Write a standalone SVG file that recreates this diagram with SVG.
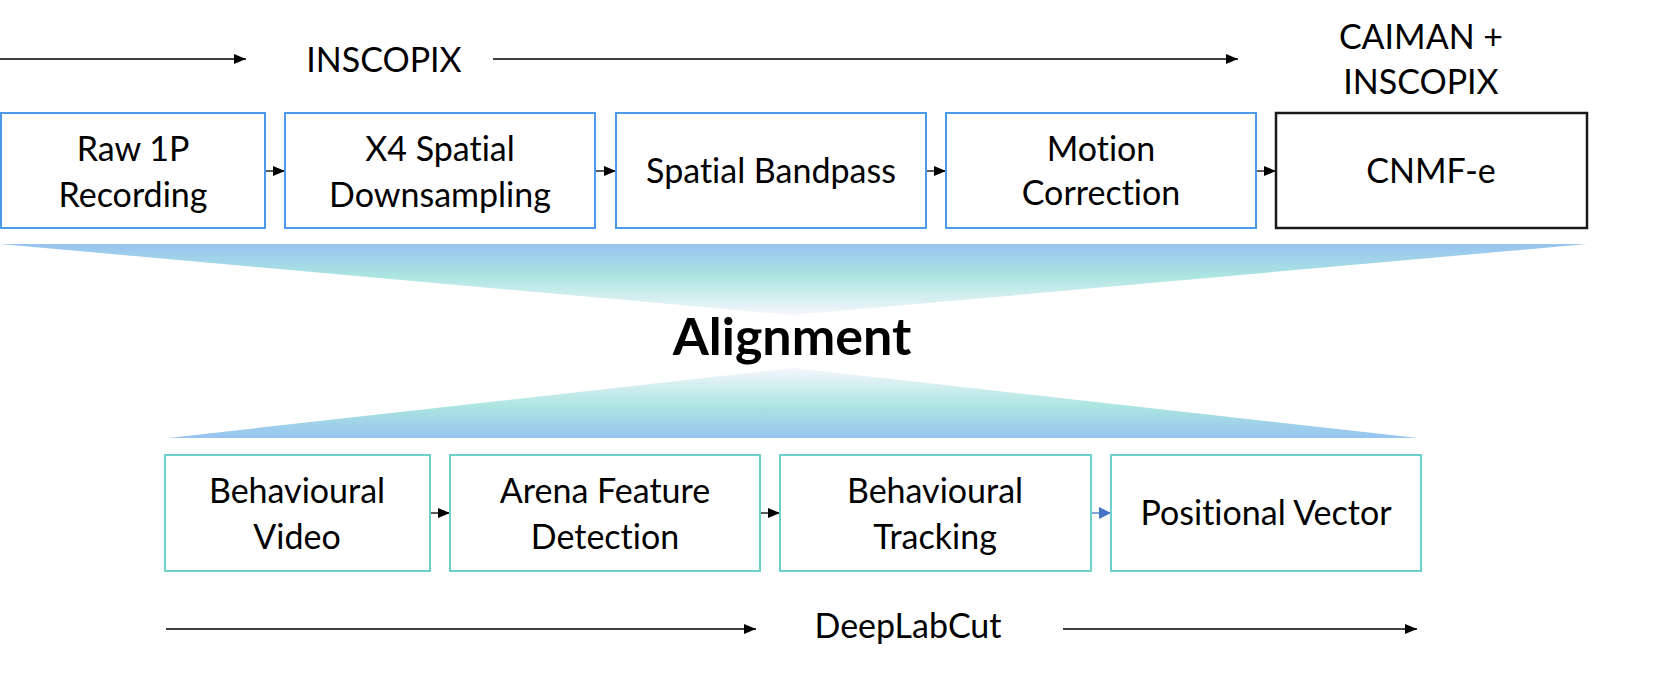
<svg xmlns="http://www.w3.org/2000/svg" width="1664" height="685" viewBox="0 0 1664 685">
<style>
.t{font-family:Lato,"Open Sans","Liberation Sans",sans-serif;font-size:34px;fill:#000;text-anchor:middle;font-variant-ligatures:none;font-feature-settings:"liga" 0,"clig" 0}
.h{font-family:Lato,"Open Sans","Liberation Sans",sans-serif;font-size:52px;font-weight:700;fill:#000;text-anchor:middle;font-variant-ligatures:none;font-feature-settings:"liga" 0,"clig" 0}
.nb{fill:#fff;stroke:#4C9BEA;stroke-width:2}
.nk{fill:#fff;stroke:#1a1a1a;stroke-width:2.5}
.nt{fill:#fff;stroke:#6CD0CB;stroke-width:2}
.c{stroke:#000;stroke-width:1.3;fill:none}
.cb{stroke:#4472C4;stroke-width:1.3;fill:none}
</style>
<defs>
<marker id="ah" viewBox="0 0 12 10" refX="12" refY="5" markerUnits="userSpaceOnUse" markerWidth="12" markerHeight="10" orient="auto"><path d="M0,0L12,5L0,10z" fill="#000"/></marker>
<marker id="ahb" viewBox="0 0 12 12" refX="12" refY="6" markerUnits="userSpaceOnUse" markerWidth="12" markerHeight="12" orient="auto"><path d="M0,0L12,6L0,12z" fill="#4472C4"/></marker>
<linearGradient id="gTop" x1="0" y1="0" x2="0" y2="1">
<stop offset="0" stop-color="#97C3F1"/>
<stop offset="0.45" stop-color="#ABE5E0"/>
<stop offset="1" stop-color="#F5F6FD"/>
</linearGradient>
<linearGradient id="gBot" x1="0" y1="1" x2="0" y2="0">
<stop offset="0" stop-color="#97C3F1"/>
<stop offset="0.45" stop-color="#ABE5E0"/>
<stop offset="1" stop-color="#F5F6FD"/>
</linearGradient>
</defs>
<rect width="1664" height="685" fill="#fff"/>

<g id="funnel-top"><polygon points="0,244 1587,244 793,315" fill="url(#gTop)"/></g>
<g id="funnel-bottom"><polygon points="168,438 1418,438 793,368" fill="url(#gBot)"/></g>

<g id="labels">
<text class="t" x="384" y="72">INSCOPIX</text>
<text class="t" x="1421" y="49">CAIMAN +</text>
<text class="t" x="1421" y="94">INSCOPIX</text>
<text class="h" x="792" y="355">Alignment</text>
<text class="t" x="908" y="638">DeepLabCut</text>
</g>

<g id="connectors">
<line class="c" x1="0" y1="59" x2="246" y2="59" marker-end="url(#ah)"/>
<line class="c" x1="493" y1="59" x2="1238" y2="59" marker-end="url(#ah)"/>
<line class="c" x1="166" y1="629" x2="756" y2="629" marker-end="url(#ah)"/>
<line class="c" x1="1063" y1="629" x2="1417" y2="629" marker-end="url(#ah)"/>
<line class="c" x1="265" y1="171" x2="285" y2="171" marker-end="url(#ah)"/>
<line class="c" x1="595" y1="171" x2="616" y2="171" marker-end="url(#ah)"/>
<line class="c" x1="926" y1="171" x2="946" y2="171" marker-end="url(#ah)"/>
<line class="c" x1="1256" y1="171" x2="1276" y2="171" marker-end="url(#ah)"/>
<line class="c" x1="430" y1="513" x2="450" y2="513" marker-end="url(#ah)"/>
<line class="c" x1="760" y1="513" x2="780" y2="513" marker-end="url(#ah)"/>
<line class="cb" x1="1091" y1="513" x2="1111" y2="513" marker-end="url(#ahb)"/>
</g>

<g id="raw"><rect class="nb" x="1" y="113" width="264" height="115"/>
<text class="t" x="133" y="161">Raw 1P</text><text class="t" x="133" y="207">Recording</text></g>
<g id="downsampling"><rect class="nb" x="285" y="113" width="310" height="115"/>
<text class="t" x="440" y="161">X4 Spatial</text><text class="t" x="440" y="207">Downsampling</text></g>
<g id="bandpass"><rect class="nb" x="616" y="113" width="310" height="115"/>
<text class="t" x="771" y="183">Spatial Bandpass</text></g>
<g id="motion"><rect class="nb" x="946" y="113" width="310" height="115"/>
<text class="t" x="1101" y="161">Motion</text><text class="t" x="1101" y="205">Correction</text></g>
<g id="cnmfe"><rect class="nk" x="1276" y="113" width="311" height="115"/>
<text class="t" x="1431" y="183">CNMF-e</text></g>

<g id="video"><rect class="nt" x="165" y="455" width="265" height="116"/>
<text class="t" x="297" y="503">Behavioural</text><text class="t" x="297" y="549">Video</text></g>
<g id="arena"><rect class="nt" x="450" y="455" width="310" height="116"/>
<text class="t" x="605" y="503">Arena Feature</text><text class="t" x="605" y="549">Detection</text></g>
<g id="tracking"><rect class="nt" x="780" y="455" width="311" height="116"/>
<text class="t" x="935" y="503">Behavioural</text><text class="t" x="935" y="549">Tracking</text></g>
<g id="positional"><rect class="nt" x="1111" y="455" width="310" height="116"/>
<text class="t" x="1266" y="525">Positional Vector</text></g>
</svg>
